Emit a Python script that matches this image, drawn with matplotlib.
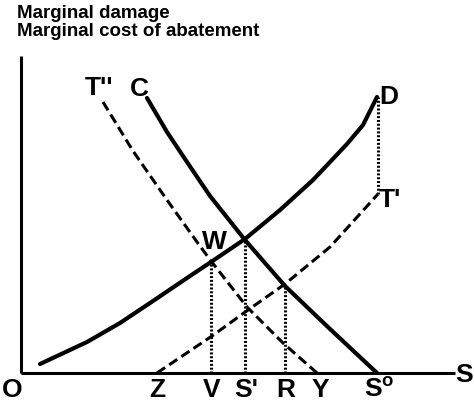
import numpy as np
import matplotlib
matplotlib.use("Agg")
import matplotlib.pyplot as plt

plt.rcParams['font.family'] = ['Liberation Sans', 'DejaVu Sans']
plt.rcParams['mathtext.fontset'] = 'custom'
plt.rcParams['mathtext.rm'] = 'Liberation Sans:bold'
plt.rcParams['mathtext.bf'] = 'Liberation Sans:bold'

# ---- data (x: abatement/emissions S, y: marginal damage / cost) ----
d_x = [19, 66, 99, 132, 166, 190, 224, 259, 292, 326, 342, 356]
d_y = [9, 31, 50, 72, 95, 111, 134, 163, 193, 229, 248, 276]       # marginal damage D

c_x = [126, 146, 166, 189, 224, 264, 309, 356]
c_y = [275, 241, 211, 177, 133, 87, 44, 0]                         # marginal cost of abatement C

t2_x = [82, 112, 146, 176, 190, 226, 262, 296]
t2_y = [271, 222, 173, 131, 112, 66, 30, 0]                        # T''

t1_x = [136, 191, 227, 264, 309, 357]
t1_y = [0, 37, 63, 89, 126, 179]                                   # T'

v_x, s1_x, r_x = 190, 224, 264
axis_labels = ["O", "Z", "V", "S'", "R", "Y", r"$\mathbf{S^o}$"]
axis_label_x = [-9, 136, 191, 225, 265, 299, 358]

fig = plt.figure(figsize=(4.74, 4.06), dpi=100)
ax = fig.add_axes([0, 0, 1, 1])
ax.set_xlim(-21, 453)
ax.set_ylim(-32, 374)
ax.axis('off')

k = 'black'
# axes
ax.plot([0, 0], [0, 317], color=k, lw=2.2, solid_capstyle='butt')
ax.plot([0, 434], [0, 0], color=k, lw=2.2, solid_capstyle='butt')

# curves
ax.plot(d_x, d_y, color=k, lw=3.0, solid_capstyle='round', solid_joinstyle='round')
ax.plot(c_x, c_y, color=k, lw=3.0, solid_capstyle='round', solid_joinstyle='round')
ax.plot(t2_x, t2_y, color=k, lw=2.2, dashes=(3.2, 1.6), dash_capstyle='butt')
ax.plot(t1_x, t1_y, color=k, lw=2.2, dashes=(3.2, 1.6), dash_capstyle='butt')

# dotted verticals
dot = dict(color=k, lw=2.2, dashes=(0.65, 0.6), dash_capstyle='butt')
vy = np.interp(v_x, d_x, d_y)
sy = np.interp(s1_x, d_x, d_y)
ry = np.interp(r_x, c_x, c_y)
ax.plot([v_x, v_x], [0, vy], **dot)
ax.plot([s1_x, s1_x], [0, sy], **dot)
ax.plot([r_x, r_x], [0, ry], **dot)
ax.plot([t1_x[-1], t1_x[-1]], [t1_y[-1], d_y[-1]], **dot)

lab = dict(fontsize=19, fontweight='bold', color=k, ha='center', va='center')
for s, x in zip(axis_labels, axis_label_x):
    ax.text(x, -16, s, **lab)
ax.text(443, -1, "S", **lab)
ax.text(78, 286, "T''", **lab)
ax.text(118, 285, "C", **lab)
ax.text(368, 277, "D", **lab)
ax.text(369, 174, "T'", **lab)
ax.text(193, 132, "W", **lab)

fig.text(17 / 474, 1 - 18 / 406, "Marginal damage", fontsize=13.5, fontweight='bold',
         va='baseline', ha='left')
fig.text(17 / 474, 1 - 36 / 406, "Marginal cost of abatement", fontsize=13.5,
         fontweight='bold', va='baseline', ha='left')

fig.savefig("out.png", dpi=100)
